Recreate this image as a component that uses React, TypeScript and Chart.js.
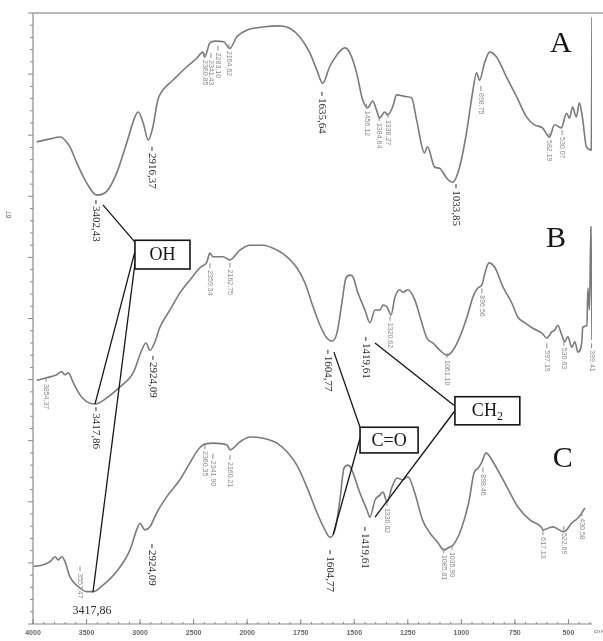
import React, { useEffect, useRef } from "react";
import { Chart, LineController, LineElement, PointElement, LinearScale } from "chart.js";

// ---- data (wavenumber cm-1, transmittance in arbitrary offset units) ----
const WN_MIN = 390;
const WN_MAX = 4000;
const X_TICKS = [4000, 3500, 3000, 2500, 2000, 1750, 1500, 1250, 1000, 750, 500];

const A_WN = [3965,3841,3748,3720,3655,3592,3499,3406,3312,3219,3126,3048,3018,2971,2924,2881,2834,2787,2694,2563,2470,2414,2396,2349,2300,2220,2162,2097,2004,1927,1848,1801,1755,1708,1675,1647,1615,1582,1545,1521,1489,1461,1437,1414,1396,1382,1358,1344,1321,1302,1256,1232,1209,1172,1158,1125,1102,1069,1041,1008,976,948,929,915,892,868,836,789,742,696,659,621,589,565,533,509,495,481,463,449,435,416,393,390];
const A_T = [78.9,79.4,79.7,79.5,78.1,75.5,72.2,70.2,70.8,73.8,78.7,83.0,83.8,82.0,79.2,81.3,85.8,87.4,89.0,91.2,92.6,93.6,92.8,95.1,95.4,95.3,94.2,96.1,97.2,97.7,97.9,97.5,96.1,93.5,90.7,88.5,91.2,93.1,94.3,93.5,90.2,85.8,84.5,85.6,84.1,82.8,83.8,83.3,84.6,86.6,86.3,86.1,82.5,77.1,78.1,74.8,74.6,73.0,72.3,74.8,80.4,86.9,90.2,89.0,91.8,93.6,92.8,89.5,86.3,83.0,81.7,81.2,79.7,81.7,81.2,83.6,82.8,84.6,83.0,85.3,83.0,78.1,77.6,99.3];

const B_WN = [3965,3872,3779,3732,3701,3670,3624,3561,3499,3421,3312,3188,3064,2985,2945,2908,2861,2814,2721,2628,2534,2441,2378,2348,2320,2226,2161,2068,1987,1926,1861,1814,1768,1730,1698,1660,1628,1604,1581,1558,1539,1520,1506,1483,1450,1427,1403,1380,1366,1347,1328,1310,1287,1273,1249,1217,1193,1161,1133,1100,1067,1039,1007,974,946,923,904,890,871,843,806,764,736,703,666,624,601,578,564,550,531,517,503,484,470,456,438,433,414,409,402,395,390];
const B_T = [39.9,40.3,40.8,41.3,40.8,41.1,39.5,37.5,36.4,36.0,37.0,38.8,41.1,44.8,46.0,44.8,46.2,48.6,51.4,54.2,56.3,58.3,59.2,60.7,60.1,60.1,59.6,61.2,62.0,62.0,61.2,60.1,58.3,55.8,52.5,48.9,46.8,46.3,47.6,52.5,56.6,57.1,56.8,54.2,51.4,49.3,51.4,51.4,52.2,51.9,50.6,53.5,54.7,54.3,54.7,53.0,50.3,46.8,46.0,44.8,44.0,44.8,47.0,50.2,53.5,55.0,55.5,57.4,59.1,58.3,55.2,52.5,50.2,49.3,48.4,47.6,46.8,47.8,48.1,48.9,47.3,46.2,47.0,45.3,46.2,44.5,46.0,48.6,48.9,55.0,51.4,65.0,46.5];

const C_WN = [3997,3904,3841,3795,3764,3732,3701,3655,3577,3499,3437,3344,3219,3095,3032,3001,2955,2908,2845,2752,2628,2534,2460,2413,2320,2189,2161,2068,1987,1926,1861,1814,1768,1721,1674,1637,1613,1590,1567,1548,1529,1515,1473,1441,1427,1403,1380,1366,1347,1324,1301,1273,1249,1217,1181,1147,1109,1082,1055,1039,1002,966,941,922,904,885,850,787,735,679,628,619,573,521,485,451,423];
const C_T = [9.4,9.7,10.2,11.0,10.5,11.0,10.2,7.7,6.1,5.3,5.3,6.4,8.6,12.1,15.4,16.5,15.4,15.9,18.2,20.8,23.6,26.4,28.5,29.3,29.6,29.3,28.5,29.8,30.6,30.4,29.6,28.2,26.0,22.4,18.2,15.4,14.2,15.4,20.3,25.5,26.0,25.5,21.4,18.7,17.5,20.3,21.1,21.6,20.0,22.4,23.9,23.6,24.1,21.4,17.0,14.9,13.3,12.1,12.6,12.9,15.4,19.8,24.7,25.5,26.5,28.0,26.4,22.4,19.1,17.0,15.9,15.4,15.9,15.1,16.5,17.5,19.0];

// peak labels [wavenumber, top value, text]
const BIG_LABELS: [number, number, string][] = [
  [3412, 68.4, "3402,43"], [2889, 77.1, "2916,37"], [1651, 86.1, "1635,64"], [1025, 71.0, "1033,85"],
  [3412, 34.5, "3417,86"], [2880, 42.9, "2924,09"], [1623, 43.9, "1604,77"], [1446, 46.0, "1419,61"],
  [2889, 12.1, "2924,09"], [1613, 11.1, "1604,77"], [1450, 14.9, "1419,61"],
];
const FLAT_LABELS: [number, number, string][] = [[3449, 2.1, "3417,86"]];
const SMALL_LABELS: [number, number, string][] = [
  [2399, 92.3, "2360,85"], [2338, 92.3, "2341,43"], [2273, 93.5, "2283,10"], [2170, 93.8, "2164,62"],
  [1443, 84.0, "1456,12"], [1384, 82.0, "1384,64"], [1342, 82.5, "1338,27"], [909, 86.9, "898,75"],
  [590, 79.2, "582,19"], [530, 79.7, "530,07"],
  [3879, 39.3, "3854,37"], [2348, 57.9, "2359,34"], [2161, 58.0, "2162,75"], [1333, 49.3, "1320,62"],
  [1067, 43.2, "1061,10"], [904, 53.8, "896,56"], [601, 44.8, "597,19"], [521, 45.2, "530,63"], [392, 44.8, "399,41"],
  [3561, 8.3, "3557,47"], [2394, 28.3, "2360,35"], [2320, 26.7, "2341,90"], [2161, 26.5, "2160,21"],
  [1347, 19.0, "1330,02"], [1082, 11.3, "1085,81"], [1044, 11.8, "1035,90"], [899, 24.5, "898,46"],
  [619, 14.2, "617,13"], [521, 14.9, "522,69"], [437, 17.3, "430,58"],
];

// assignment boxes
const BOX_TEXT = ["OH", "C=O", "CH"];
const BOX_SUB = ["", "", "2"];
const BOX_WN1 = [3048, 1473, 1030];
const BOX_WN2 = [2534, 1202, 727];
const BOX_V1 = [62.8, 32.2, 37.2];
const BOX_V2 = [58.1, 28.0, 32.6];
// connector lines [wn1, v1, wn2, v2]
const LINKS: [number, number, number, number][] = [
  [3347, 68.6, 3048, 62.5], [3048, 61.0, 3421, 36.0], [3048, 59.0, 3440, 5.2],
  [1595, 44.5, 1473, 32.2], [1599, 14.6, 1473, 30.4],
  [1403, 46.0, 1035, 35.8], [1030, 34.9, 1403, 17.5],
];
const LETTERS = ["A", "B", "C"];
const LETTER_WN = [535, 558, 526];
const LETTER_V = [93.6, 61.7, 25.7];

// ---- FTIR axis: 500 cm-1 per division above 2000, 250 below ----
const P_MAX = 4 + (2000 - WN_MIN) / 250;
const wnToPos = (wn: number) => (wn >= 2000 ? (4000 - wn) / 500 : 4 + (2000 - wn) / 250);

class FtirScale extends (LinearScale as any) {
  static id = "ftir";
  getPixelForValue(value: number) {
    return this.getPixelForDecimal(wnToPos(value) / P_MAX);
  }
  getValueForPixel(pixel: number) {
    const p = this.getDecimalForPixel(pixel) * P_MAX;
    return p <= 4 ? 4000 - 500 * p : 2000 - 250 * (p - 4);
  }
}

Chart.register(LineController, LineElement, PointElement, LinearScale, FtirScale as any);

const SERIF = "'Liberation Serif', 'DejaVu Serif', serif";

const decor = {
  id: "ftirDecor",
  afterDatasetsDraw(chart: any) {
    const ctx = chart.ctx as CanvasRenderingContext2D;
    const xs = chart.scales.x;
    const ys = chart.scales.y;
    const X = (w: number) => xs.getPixelForValue(w);
    const Y = (v: number) => ys.getPixelForValue(v);
    const { left, right, top, bottom } = chart.chartArea;
    const seg = (x1: number, y1: number, x2: number, y2: number) => {
      ctx.beginPath();
      ctx.moveTo(x1, y1);
      ctx.lineTo(x2, y2);
      ctx.stroke();
    };
    ctx.save();
    // frame
    ctx.strokeStyle = "#a0a0a0";
    ctx.lineWidth = 1.6;
    seg(left, top, chart.width, top);
    ctx.strokeStyle = "#8a8a8a";
    ctx.lineWidth = 1.2;
    seg(left, top, left, bottom);
    seg(left, bottom, right, bottom);
    // y ticks
    ctx.lineWidth = 1;
    for (let v = 0; v <= 100; v += 2) {
      const len = v % 10 === 0 ? 5 : 3;
      seg(left - len, Y(v), left, Y(v));
    }
    // x minor ticks
    for (let w = 4000; w >= 2000; w -= 100) seg(X(w), bottom, X(w), bottom - 2);
    for (let w = 2000; w >= 400; w -= 50) seg(X(w), bottom, X(w), bottom - 2);
    // x major ticks + labels
    ctx.fillStyle = "#666";
    ctx.font = "bold 7px 'Liberation Sans', sans-serif";
    ctx.textAlign = "center";
    ctx.textBaseline = "middle";
    for (const w of X_TICKS) {
      seg(X(w), bottom, X(w), bottom - 5);
      ctx.fillText(String(w), X(w), bottom + 9);
    }
    ctx.textAlign = "left";
    ctx.font = "6px 'Liberation Sans', sans-serif";
    ctx.fillText("cm-1", right + 2, bottom + 7);
    // y label
    ctx.save();
    ctx.translate(9, Y(67));
    ctx.rotate(-Math.PI / 2);
    ctx.textAlign = "center";
    ctx.font = "7px 'Liberation Sans', sans-serif";
    ctx.fillText("67", 0, 0);
    ctx.restore();

    // rotated peak labels
    const vlabel = (w: number, v: number, t: string, font: string, color: string, tick: number) => {
      const x = X(w);
      const y = Y(v);
      ctx.strokeStyle = color;
      ctx.lineWidth = 1;
      seg(x, y - tick - 2, x, y - 2);
      ctx.save();
      ctx.translate(x, y);
      ctx.rotate(Math.PI / 2);
      ctx.font = font;
      ctx.fillStyle = color;
      ctx.textAlign = "left";
      ctx.textBaseline = "middle";
      ctx.fillText(t, 0, 0);
      ctx.restore();
    };
    for (const [w, v, t] of SMALL_LABELS) vlabel(w, v, t, "7px 'Liberation Sans', sans-serif", "#8a8a8a", 5);
    for (const [w, v, t] of BIG_LABELS) vlabel(w, v, t, `11px ${SERIF}`, "#2a2a2a", 4);
    ctx.fillStyle = "#2a2a2a";
    ctx.font = `12px ${SERIF}`;
    ctx.textAlign = "center";
    ctx.textBaseline = "middle";
    for (const [w, v, t] of FLAT_LABELS) ctx.fillText(t, X(w), Y(v));

    // connector lines
    ctx.strokeStyle = "#151515";
    ctx.lineWidth = 1.3;
    for (const [w1, v1, w2, v2] of LINKS) seg(X(w1), Y(v1), X(w2), Y(v2));

    // boxes
    for (let i = 0; i < BOX_TEXT.length; i++) {
      const x1 = X(BOX_WN1[i]);
      const x2 = X(BOX_WN2[i]);
      const y1 = Y(BOX_V1[i]);
      const y2 = Y(BOX_V2[i]);
      ctx.fillStyle = "#fff";
      ctx.fillRect(x1, y1, x2 - x1, y2 - y1);
      ctx.strokeStyle = "#151515";
      ctx.lineWidth = 1.6;
      ctx.strokeRect(x1, y1, x2 - x1, y2 - y1);
      ctx.fillStyle = "#151515";
      ctx.font = `18px ${SERIF}`;
      ctx.textBaseline = "middle";
      const main = BOX_TEXT[i];
      const sub = BOX_SUB[i];
      const mw = ctx.measureText(main).width;
      ctx.font = `12px ${SERIF}`;
      const sw = sub ? ctx.measureText(sub).width : 0;
      const cx = (x1 + x2) / 2;
      const cy = (y1 + y2) / 2 + 1;
      const sx = cx - (mw + sw) / 2;
      ctx.textAlign = "left";
      ctx.font = `18px ${SERIF}`;
      ctx.fillText(main, sx, cy);
      if (sub) {
        ctx.font = `12px ${SERIF}`;
        ctx.fillText(sub, sx + mw, cy + 5);
      }
    }

    // panel letters
    ctx.fillStyle = "#151515";
    ctx.font = `30px ${SERIF}`;
    ctx.textAlign = "center";
    ctx.textBaseline = "alphabetic";
    for (let i = 0; i < LETTERS.length; i++) ctx.fillText(LETTERS[i], X(LETTER_WN[i]), Y(LETTER_V[i]));
    ctx.restore();
  },
};

const toPoints = (wn: number[], t: number[]) => wn.map((w, i) => ({ x: w, y: t[i] }));

export default function App() {
  const ref = useRef<HTMLCanvasElement | null>(null);
  useEffect(() => {
    if (!ref.current) return;
    const series = [
      { label: "A", data: toPoints(A_WN, A_T) },
      { label: "B", data: toPoints(B_WN, B_T) },
      { label: "C", data: toPoints(C_WN, C_T) },
    ];
    const chart = new Chart(ref.current, {
      type: "line",
      data: {
        datasets: series.map((s) => ({
          label: s.label,
          data: s.data,
          borderColor: "#7a7a7a",
          borderWidth: 1.6,
          pointRadius: 0,
          fill: false,
          cubicInterpolationMode: "monotone",
        })),
      } as any,
      options: {
        responsive: false,
        animation: false,
        events: [],
        layout: { padding: { left: 33, right: 11, top: 13, bottom: 17 } },
        plugins: { legend: { display: false }, tooltip: { enabled: false } } as any,
        scales: {
          x: { type: "ftir" as any, min: WN_MIN, max: WN_MAX, display: false },
          y: { type: "linear", min: 0, max: 100, display: false },
        },
      },
      plugins: [decor],
    });
    return () => chart.destroy();
  }, []);
  return (
    <div style={{ position: "fixed", left: 0, top: 0, width: 603, height: 641, background: "#fff" }}>
      <canvas ref={ref} width={603} height={641} style={{ width: 603, height: 641, display: "block" }} />
    </div>
  );
}
